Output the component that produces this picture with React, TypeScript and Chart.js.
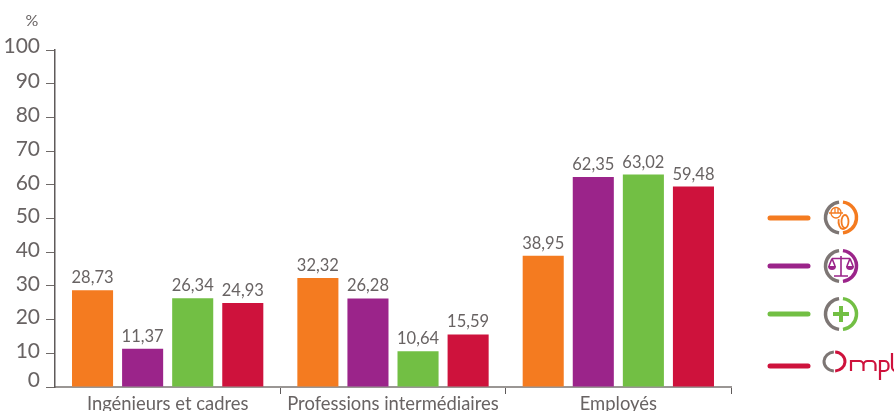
import React, { useEffect, useRef } from "react";
import { Chart, registerables } from "chart.js";

Chart.register(...registerables);

const categories = ["Ingénieurs et cadres", "Professions intermédiaires", "Employés"];
const seriesNames = ["Série orange", "Série violette", "Série verte", "Ompl"];
const orangeValues = [28.73, 32.32, 38.95];
const purpleValues = [11.37, 26.28, 62.35];
const greenValues = [26.34, 10.64, 63.02];
const redValues = [24.93, 15.59, 59.48];
const colors = ["#F47B20", "#9B248A", "#72BF44", "#CE123C"];
const yTickLabelShift: Record<number, number> = { 0: -7, 100: -4 };

const FONT = "Lato, 'Open Sans', sans-serif";
const TEXT = "#686363";
const GRAY = "#7d7674";

const arcIcon = (c: CanvasRenderingContext2D, x: number, y: number, r: number, w: number, color: string) => {
  c.lineWidth = w;
  c.lineCap = "butt";
  c.strokeStyle = GRAY;
  c.beginPath();
  c.arc(x, y, r, Math.PI * 0.54, Math.PI * 1.46);
  c.stroke();
  c.strokeStyle = color;
  c.beginPath();
  c.arc(x, y, r, -Math.PI * 0.46, Math.PI * 0.46);
  c.stroke();
};

const plugin = {
  id: "decor",
  afterDatasetsDraw(chart: any) {
    const c: CanvasRenderingContext2D = chart.ctx;
    c.save();
    // value labels
    c.font = `16.5px ${FONT}`;
    c.fillStyle = TEXT;
    c.textAlign = "center";
    c.textBaseline = "alphabetic";
    chart.data.datasets.forEach((ds: any, i: number) => {
      chart.getDatasetMeta(i).data.forEach((bar: any, j: number) => {
        c.fillText(ds.data[j].toFixed(2).replace(".", ","), bar.x, bar.y - 7);
      });
    });
    // y tick labels
    const y = chart.scales.y;
    c.font = `21px ${FONT}`;
    c.textAlign = "right";
    c.textBaseline = "middle";
    y.ticks.forEach((t: any, i: number) => {
      const shift = yTickLabelShift[t.value] ?? -2;
      c.fillText(String(t.value), 40, y.getPixelForTick(i) + shift);
    });
    c.font = `16px ${FONT}`;
    c.textAlign = "center";
    c.fillText("%", 32, 21);
    // legend lines
    const rows = [218, 266, 314, 366];
    c.lineCap = "round";
    c.lineWidth = 5;
    rows.forEach((ry, i) => {
      c.strokeStyle = colors[i];
      c.beginPath();
      c.moveTo(770, ry);
      c.lineTo(808, ry);
      c.stroke();
    });
    // orange icon: helmet and wheel
    arcIcon(c, 841, 217.5, 15.5, 3.5, colors[0]);
    c.strokeStyle = colors[0];
    c.lineWidth = 1.8;
    c.beginPath();
    c.ellipse(845, 221.5, 3.5, 6.5, 0, 0, Math.PI * 2);
    c.stroke();
    c.beginPath();
    c.ellipse(843, 221.5, 4.5, 7.5, 0, Math.PI * 0.3, Math.PI * 1.1);
    c.stroke();
    c.lineWidth = 1.3;
    c.beginPath();
    c.arc(836, 212.5, 5, Math.PI, 0);
    c.moveTo(829, 213);
    c.lineTo(843, 213);
    c.moveTo(835, 207.5);
    c.lineTo(835, 213);
    c.moveTo(838, 207.5);
    c.lineTo(838, 213);
    c.moveTo(831, 213);
    c.arc(836, 213, 5, Math.PI, 0, true);
    c.stroke();
    // purple icon: scales
    arcIcon(c, 841, 266, 15.5, 3.5, colors[1]);
    c.strokeStyle = colors[1];
    c.fillStyle = colors[1];
    c.lineWidth = 1.6;
    c.beginPath();
    c.moveTo(841, 256);
    c.lineTo(841, 276);
    c.moveTo(834, 276);
    c.lineTo(848, 276);
    c.moveTo(832, 258.5);
    c.lineTo(850, 258.5);
    c.moveTo(832, 258.5);
    c.lineTo(829, 266);
    c.moveTo(832, 258.5);
    c.lineTo(835, 266);
    c.moveTo(850, 258.5);
    c.lineTo(847, 266);
    c.moveTo(850, 258.5);
    c.lineTo(853, 266);
    c.stroke();
    [832, 850].forEach((px) => {
      c.beginPath();
      c.arc(px, 266, 4, 0, Math.PI);
      c.fill();
    });
    // green icon: plus
    arcIcon(c, 841, 314, 15.5, 3.5, colors[2]);
    c.strokeStyle = colors[2];
    c.lineWidth = 4;
    c.lineCap = "butt";
    c.beginPath();
    c.moveTo(841, 306);
    c.lineTo(841, 322);
    c.moveTo(833, 314);
    c.lineTo(849, 314);
    c.stroke();
    // red logo: O in two halves, then "mpl" strokes
    c.lineWidth = 3;
    c.strokeStyle = GRAY;
    c.beginPath();
    c.ellipse(834.5, 361.5, 10.5, 9.5, 0, Math.PI * 0.52, Math.PI * 1.48);
    c.stroke();
    c.strokeStyle = colors[3];
    c.beginPath();
    c.ellipse(834.5, 361.5, 10.5, 9.5, 0, -Math.PI * 0.48, Math.PI * 0.48);
    c.stroke();
    c.lineWidth = 2.2;
    c.beginPath();
    c.moveTo(851, 371);
    c.lineTo(851, 361);
    c.lineTo(859, 361);
    c.arcTo(863.5, 361, 863.5, 365, 4);
    c.lineTo(863.5, 371);
    c.moveTo(863.5, 365);
    c.arcTo(863.5, 361, 868, 361, 4);
    c.lineTo(871, 361);
    c.arcTo(875.5, 361, 875.5, 365, 4);
    c.lineTo(875.5, 371);
    c.moveTo(880, 380);
    c.lineTo(880, 361);
    c.lineTo(884, 361);
    c.arcTo(888.5, 361, 888.5, 365, 4);
    c.lineTo(888.5, 367);
    c.arcTo(888.5, 371, 884, 371, 4);
    c.lineTo(880, 371);
    c.moveTo(892, 353);
    c.lineTo(892, 367);
    c.arcTo(892, 371, 896, 371, 4);
    c.stroke();
    c.restore();
  },
};

export default function App() {
  const ref = useRef<HTMLCanvasElement>(null);
  useEffect(() => {
    document.body.style.margin = "0";
    const chart = new Chart(ref.current!, {
      type: "bar",
      data: {
        labels: categories,
        datasets: [orangeValues, purpleValues, greenValues, redValues].map((data, i) => ({
          label: seriesNames[i],
          data,
          backgroundColor: colors[i],
          categoryPercentage: 0.889,
          barPercentage: 0.82,
        })),
      },
      options: {
        responsive: false,
        animation: false,
        layout: { padding: { top: 50, right: 163, left: 0, bottom: 0 } },
        plugins: { legend: { display: false }, tooltip: { enabled: false } },
        scales: {
          x: {
            offset: true,
            afterFit: (s: any) => {
              s.height = 24;
            },
            border: { color: "#9a9694", width: 2 },
            grid: {
              offset: true,
              drawOnChartArea: false,
              tickLength: 7,
              tickColor: (ctx: any) => (ctx.index === 0 ? "transparent" : "#5f5a5a"),
              tickWidth: 1,
            },
            ticks: { color: TEXT, font: { family: FONT, size: 18.4 }, padding: -1, maxRotation: 0 },
          },
          y: {
            min: 0,
            max: 100,
            afterFit: (s: any) => {
              s.width = 55;
            },
            border: { color: "#5f5a5a", width: 1.5 },
            grid: { drawOnChartArea: false, tickLength: 9, tickColor: "#6f6a68", tickWidth: 1 },
            ticks: { stepSize: 10, display: false },
          },
        },
      },
      plugins: [plugin],
    } as any);
    return () => chart.destroy();
  }, []);
  return <canvas ref={ref} width={894} height={411} style={{ display: "block" }} />;
}
